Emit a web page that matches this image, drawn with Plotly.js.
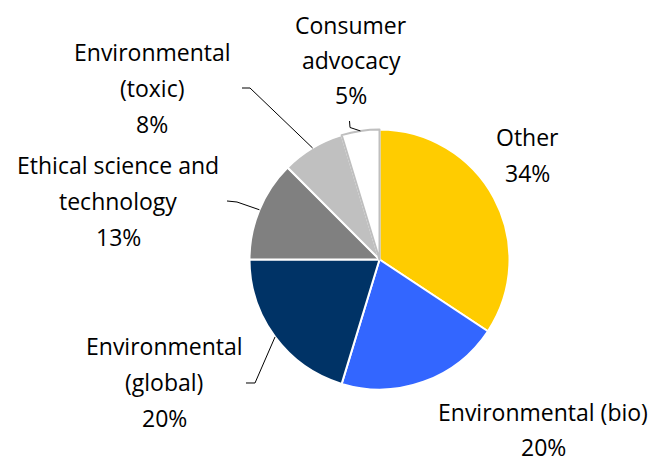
<!DOCTYPE html>
<html>
<head>
<meta charset="utf-8">
<script src="https://cdn.plot.ly/plotly-3.0.1.min.js"></script>
<style>html,body{margin:0;padding:0;background:#fff;}#chart{width:664px;height:462px;}</style>
</head>
<body>
<div id="chart"></div>
<script>
// ---- data ----
const categories = ['Other', 'Environmental (bio)', 'Environmental (global)', 'Ethical science and technology', 'Environmental (toxic)', 'Consumer advocacy'];
const values = [34.3, 20.4, 20.3, 12.5, 7.8, 4.7];
const labelLines = [['Other'], ['Environmental (bio)'], ['Environmental', '(global)'], ['Ethical science and', 'technology'], ['Environmental', '(toxic)'], ['Consumer', 'advocacy']];
const sliceColors = ['#FFCC00', '#3366FF', '#003366', '#808080', '#C0C0C0', '#FFFFFF'];
const sliceLineColors = ['#FFFFFF', '#FFFFFF', '#FFFFFF', '#FFFFFF', '#FFFFFF', '#BFBFBF'];

// ---- layout (pixels) ----
const W = 664, H = 462;
const cx = 379.5, cy = 259.5, R = 130;
const labelPos = [[527, 137], [543, 412], [164, 346], [118, 165], [152, 52], [351, 25]];
const lineGaps = [36, 35, 36, 36, 36, 35];
const elbows = [null, null, [[246, 383], [255, 383]], [[227, 201], [237, 202]], [[242, 88], [250, 88]], [[349.5, 121], [350, 127.5]]];

const px = x => x / W;
const py = y => 1 - y / H;
const total = values.reduce((a, b) => a + b, 0);

const annotations = [];
const shapes = [];
let cum = 0;
values.forEach((v, i) => {
  const lines = labelLines[i].concat([Math.round(v / total * 100) + '%']);
  lines.forEach((t, k) => {
    annotations.push({
      text: t, xref: 'paper', yref: 'paper',
      x: px(labelPos[i][0]), y: py(labelPos[i][1] + k * lineGaps[i]),
      xanchor: 'center', yanchor: 'middle', showarrow: false, borderpad: 0,
      font: {family: 'Open Sans, sans-serif', size: 23, color: '#000'}
    });
  });
  const mid = 2 * Math.PI * (cum + v / 2) / total;
  cum += v;
  if (elbows[i]) {
    const ex = cx + R * Math.sin(mid), ey = cy - R * Math.cos(mid);
    const pts = elbows[i].concat([[ex, ey]]);
    const path = pts.map((p, j) => (j ? 'L ' : 'M ') + px(p[0]).toFixed(5) + ' ' + py(p[1]).toFixed(5)).join(' ');
    shapes.push({type: 'path', xref: 'paper', yref: 'paper', path: path, line: {color: '#000', width: 1}});
  }
});

const trace = {
  type: 'pie',
  labels: categories,
  values: values,
  sort: false,
  direction: 'clockwise',
  rotation: 0,
  textinfo: 'none',
  hoverinfo: 'label+percent',
  marker: {colors: sliceColors, line: {color: sliceLineColors, width: 2}},
  domain: {x: [px(cx - R), px(cx + R)], y: [py(cy + R), py(cy - R)]},
  showlegend: false
};

const layout = {
  width: W, height: H, autosize: false,
  margin: {l: 0, r: 0, t: 0, b: 0},
  paper_bgcolor: '#fff', plot_bgcolor: '#fff',
  showlegend: false,
  annotations: annotations,
  shapes: shapes
};

Plotly.newPlot('chart', [trace], layout, {displayModeBar: false, staticPlot: true});
</script>
</body>
</html>
